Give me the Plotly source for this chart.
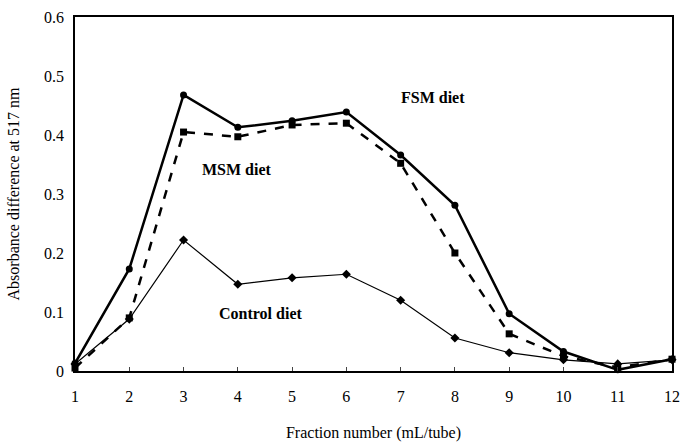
import plotly.graph_objects as go

fractions = [1, 2, 3, 4, 5, 6, 7, 8, 9, 10, 11, 12]
fsm = [0.013, 0.173, 0.468, 0.413, 0.424, 0.439, 0.366, 0.281, 0.097, 0.033, 0.002, 0.020]
msm = [0.005, 0.090, 0.405, 0.397, 0.417, 0.420, 0.352, 0.200, 0.063, 0.025, 0.006, 0.020]
control = [0.012, 0.088, 0.222, 0.147, 0.158, 0.164, 0.120, 0.056, 0.031, 0.019, 0.012, 0.019]
y_ticks = [0, 0.1, 0.2, 0.3, 0.4, 0.5, 0.6]
y_tick_labels = ["0", "0.1", "0.2", "0.3", "0.4", "0.5", "0.6"]

FONT = "Liberation Serif, Times New Roman, DejaVu Serif, serif"

fig = go.Figure()
fig.add_trace(go.Scatter(x=fractions, y=control, mode="lines+markers", name="Control diet",
                         line=dict(color="black", width=1.2),
                         marker=dict(symbol="diamond", size=7, color="black"), cliponaxis=False))
fig.add_trace(go.Scatter(x=fractions, y=msm, mode="lines+markers", name="MSM diet",
                         line=dict(color="black", width=2.5, dash="dash"),
                         marker=dict(symbol="square", size=7, color="black"), cliponaxis=False))
fig.add_trace(go.Scatter(x=fractions, y=fsm, mode="lines+markers", name="FSM diet",
                         line=dict(color="black", width=2.5),
                         marker=dict(symbol="circle", size=7, color="black"), cliponaxis=False))

ann_font = dict(family=FONT, size=16, color="black")
fig.add_annotation(x=7.59, y=0.464, text="<b>FSM diet</b>", showarrow=False, font=ann_font)
fig.add_annotation(x=3.98, y=0.342, text="<b>MSM diet</b>", showarrow=False, font=ann_font)
fig.add_annotation(x=4.41, y=0.097, text="<b>Control diet</b>", showarrow=False, font=ann_font)

fig.update_layout(
    width=682, height=442,
    margin=dict(l=75, r=10, t=17, b=71),
    plot_bgcolor="white", paper_bgcolor="white",
    showlegend=False,
    font=dict(family=FONT, size=16, color="black"),
    xaxis=dict(range=[1, 12], tickvals=fractions, ticks="inside", ticklen=4,
               showline=True, linecolor="black", linewidth=1.5, mirror=True,
               showgrid=False, zeroline=False, ticklabelstandoff=10, automargin=False,
               title=dict(text="Fraction number (mL/tube)", standoff=27,
                          font=dict(family=FONT, size=16))),
    yaxis=dict(range=[0, 0.6], tickvals=y_ticks, ticktext=y_tick_labels, ticks="",
               showline=True, linecolor="black", linewidth=1.5, mirror=True,
               showgrid=False, zeroline=False, ticklabelstandoff=6, automargin=False,
               title=dict(text="Absorbance difference at 517 nm", standoff=20,
                          font=dict(family=FONT, size=16))),
)

fig.write_html("out.html", config={"displayModeBar": False})

with open("out.html", "r", encoding="utf-8") as f:
    html = f.read()
html = html.replace("<body>", '<body style="margin:0;padding:0;overflow:hidden">', 1)
with open("out.html", "w", encoding="utf-8") as f:
    f.write(html)
